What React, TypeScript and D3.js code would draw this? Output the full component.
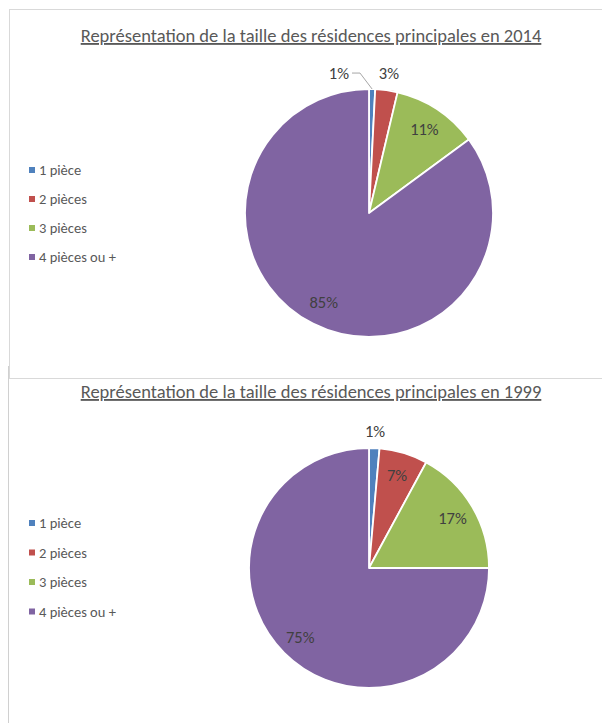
import React from 'react';
import * as d3 from 'd3';

// categories and values
const categories = ['1 pièce', '2 pièces', '3 pièces', '4 pièces ou +'];
const colors = ['#4F81BD', '#C0504D', '#9BBB59', '#8064A2'];

const values2014 = [0.8, 2.9, 11.2, 85.1];
const labels2014 = ['1%', '3%', '11%', '85%'];

const values1999 = [1.4, 6.5, 17.1, 75.0];
const labels1999 = ['1%', '7%', '17%', '75%'];

const FONT = 'Carlito, Calibri, Lato, sans-serif';

interface PieChartProps {
  title: string;
  values: number[];
  labels: string[];
  cx: number;
  cy: number;
  r: number;
  titleY: number;
  legendY: number;
  legendStep: number;
}

function PieChart({ title, values, labels, cx, cy, r, titleY, legendY, legendStep }: PieChartProps) {
  const pie = d3.pie<number>().value(d => d).sort(null);
  const arcs = pie(values);
  const arc = d3.arc<d3.PieArcDatum<number>>().innerRadius(0).outerRadius(r);
  const inner = d3.arc<d3.PieArcDatum<number>>().innerRadius(r * 0.81).outerRadius(r * 0.81);
  const outer = d3.arc<d3.PieArcDatum<number>>().innerRadius(r * 1.14).outerRadius(r * 1.14);
  const edge = d3.arc<d3.PieArcDatum<number>>().innerRadius(r).outerRadius(r);

  // label positions: small slices outside, others inside
  const placed = arcs.map((a, i) => {
    const small = a.data < 5;
    const [x, y] = small ? outer.centroid(a) : inner.centroid(a);
    return { a, i, small, x, y, shifted: false };
  });
  for (let i = 0; i < placed.length - 1; i++) {
    const p = placed[i], q = placed[i + 1];
    if (p.small && q.small && Math.abs(q.x - p.x) < 24) {
      p.shifted = true;
      p.y = q.y;
    }
  }

  return (
    <g>
      <text x={311} y={titleY} textAnchor="middle" fontFamily={FONT} fontSize={18.5}
        fill="#595959" style={{ textDecoration: 'underline' }}>{title}</text>
      {arcs.map((a, i) => (
        <path key={i} d={arc(a) || ''} transform={`translate(${cx},${cy})`}
          fill={colors[i]} stroke="#fff" strokeWidth={1.8} strokeLinejoin="round" />
      ))}
      {placed.map(p => {
        if (p.shifted) {
          const [ex, ey] = edge.centroid(p.a);
          const lx = cx - 20;
          return (
            <g key={p.i}>
              <polyline fill="none" stroke="#A6A6A6" strokeWidth={1}
                points={`${lx + 3},${cy + p.y} ${lx + 11},${cy + p.y} ${cx + ex},${cy + ey}`} />
              <text x={lx} y={cy + p.y} dy="0.35em" textAnchor="end" fontFamily={FONT} fontSize={16.5}
                fill="#404040">{labels[p.i]}</text>
            </g>
          );
        }
        return (
          <text key={p.i} x={cx + p.x} y={cy + p.y} dy="0.35em" textAnchor="middle"
            fontFamily={FONT} fontSize={16.5} fill="#404040">{labels[p.i]}</text>
        );
      })}
      {categories.map((c, i) => (
        <g key={c} transform={`translate(29,${legendY + i * legendStep})`}>
          <rect x={0} y={-3} width={6} height={6} fill={colors[i]} />
          <text x={10} y={0} dy="0.35em" fontFamily={FONT} fontSize={14.5} fill="#595959">{c}</text>
        </g>
      ))}
    </g>
  );
}

export default function App() {
  return (
    <div style={{ position: 'absolute', left: 0, top: 0 }}>
      <svg width={602} height={723} style={{ display: 'block', background: '#fff' }}>
        {/* chart frames */}
        <line x1={9} y1={9.5} x2={602} y2={9.5} stroke="#D9D9D9" />
        <line x1={9.5} y1={9} x2={9.5} y2={378} stroke="#D9D9D9" />
        <line x1={9} y1={378.5} x2={602} y2={378.5} stroke="#D9D9D9" />
        <line x1={8.5} y1={366} x2={8.5} y2={723} stroke="#D0D0D0" />
        <PieChart title="Représentation de la taille des résidences principales en 2014"
          values={values2014} labels={labels2014} cx={369} cy={213} r={124}
          titleY={42} legendY={170} legendStep={29} />
        <PieChart title="Représentation de la taille des résidences principales en 1999"
          values={values1999} labels={labels1999} cx={369} cy={568} r={120}
          titleY={398} legendY={523} legendStep={29.5} />
      </svg>
    </div>
  );
}
